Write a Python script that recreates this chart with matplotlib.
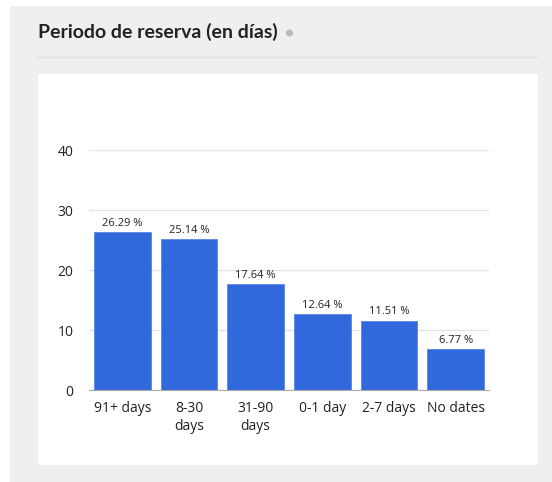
import matplotlib.pyplot as plt
from matplotlib.patches import Rectangle, Circle

# booking lead time shares
categories = ['91+ days', '8-30\ndays', '31-90\ndays', '0-1 day', '2-7 days', 'No dates']
shares = [26.29, 25.14, 17.64, 12.64, 11.51, 6.77]
yticks = [0, 10, 20, 30, 40]

W, H = 552, 482
bar_color = '#3168dc'

plt.rcParams['font.family'] = ['Open Sans', 'DejaVu Sans']

fig = plt.figure(figsize=(W / 100, H / 100), dpi=100, facecolor='white')

# card background, header and inner white panel (pixel coordinates)
bg = fig.add_axes([0, 0, 1, 1], zorder=-1)
bg.set_xlim(0, W)
bg.set_ylim(H, 0)
bg.axis('off')
bg.add_patch(Rectangle((10, 6), W - 10, H - 6, color='#efefef', lw=0))
bg.add_patch(Rectangle((38, 74), 500, 391, color='white', lw=0))
bg.plot([37, 537], [56.5, 56.5], color='#e2e2e2', lw=1)
bg.text(38, 32, 'Periodo de reserva (en días)', fontsize=14, fontweight='bold',
        family=['Lato', 'DejaVu Sans'], color='#222222', va='center', ha='left')
bg.add_patch(Circle((289.5, 33), 3.6, color='#bbbbbb', lw=0))

ax = fig.add_axes([89 / W, (H - 390) / H, 400 / W, 240 / H])
x = range(len(categories))
bars = ax.bar(x, shares, width=0.85, color=bar_color, edgecolor='#5a86e6', linewidth=0.6, zorder=3)
for b, v in zip(bars, shares):
    ax.text(b.get_x() + b.get_width() / 2, v + 0.6, f'{v:.2f} %', ha='center', va='bottom',
            fontsize=8, color='#222222')

ax.set_xlim(-0.5, len(categories) - 0.5)
ax.set_ylim(0, 40)
ax.set_yticks(yticks)
ax.set_xticks(list(x))
ax.set_xticklabels(categories, fontsize=10, color='#222222', linespacing=1.3)
ax.tick_params(axis='y', labelsize=10, colors='#222222', length=0, pad=11)
ax.tick_params(axis='x', length=0, pad=8)
ax.grid(axis='y', color='#e1e4ee', lw=1, zorder=0)
for s in ['top', 'right', 'left']:
    ax.spines[s].set_visible(False)
ax.spines['bottom'].set_color('#aaaaaa')
ax.spines['bottom'].set_zorder(4)
ax.set_facecolor('none')

fig.savefig('out.png', dpi=100)
